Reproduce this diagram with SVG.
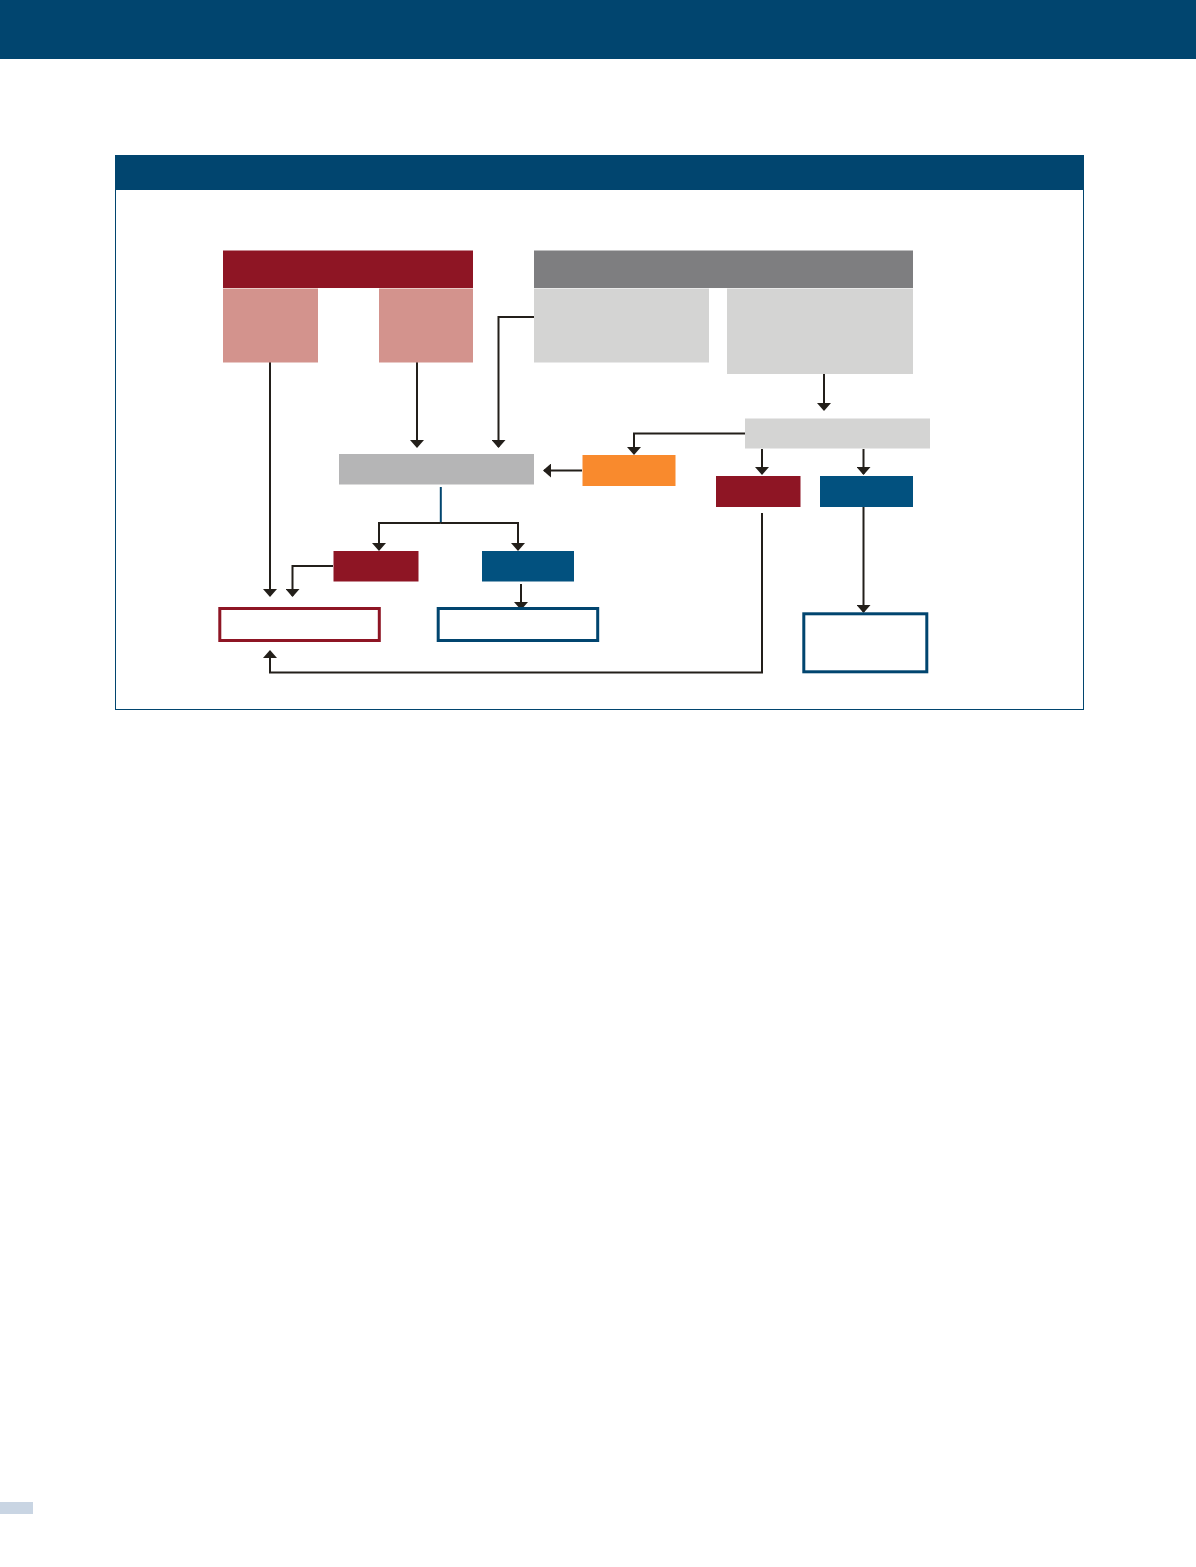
<svg xmlns="http://www.w3.org/2000/svg" width="1196" height="1567" viewBox="0 0 1196 1567">
<style>
.ln{fill:none;stroke:#231F1A;stroke-width:2}
.ah{marker-end:url(#arr)}
.red{fill:#8E1524}
.pink{fill:#D3938D}
.lg{fill:#D4D4D3}
.blue{fill:#02517F}
.outR{fill:#fff;stroke:#8E1524;stroke-width:3}
.outB{fill:#fff;stroke:#01456F;stroke-width:3}
</style>
<defs>
<marker id="arr" viewBox="0 0 8 14" refX="7" refY="7" markerWidth="8" markerHeight="14" markerUnits="userSpaceOnUse" orient="auto">
<path d="M0,0 L8,7 L0,14 z" fill="#231F1A"/>
</marker>
</defs>
<rect x="0" y="0" width="1196" height="1567" fill="#fff"/>
<rect id="topband" x="0" y="0" width="1196" height="59" fill="#01456F"/>
<rect id="footmark" x="0" y="1502" width="33" height="12" fill="#C9D5E3"/>
<g id="frame">
<rect x="115.5" y="155.5" width="968" height="554" fill="#fff" stroke="#01456F" stroke-width="1"/>
<rect x="115" y="155" width="969" height="35" fill="#01456F"/>
</g>
<g id="connectors">
<path class="ln ah" d="M270,362 V596"/>
<path class="ln ah" d="M417,362 V447"/>
<path class="ln ah" d="M534,317 H498.5 V447"/>
<path class="ln ah" d="M824,374 V410"/>
<path class="ln ah" d="M745,433.5 H634 V454"/>
<path class="ln ah" d="M582,470.5 H544"/>
<path class="ln ah" d="M762,449 V474"/>
<path class="ln ah" d="M863.5,449 V474"/>
<path d="M440.8,487 V523" fill="none" stroke="#01456F" stroke-width="2"/>
<path class="ln ah" d="M440.8,523 H379 V550"/>
<path class="ln ah" d="M440.8,523 H518 V550"/>
<path class="ln ah" d="M333,566 H292.5 V596"/>
<path class="ln ah" d="M521,584 V609"/>
<path class="ln ah" d="M863.5,507 V612"/>
<path class="ln ah" d="M762,513 V672.5 H270 V651"/>
</g>
<g id="redHeader"><rect class="red" x="223" y="250.5" width="250" height="37.5"/></g>
<g id="pinkLeft"><rect class="pink" x="223" y="288.5" width="95" height="74"/></g>
<g id="pinkRight"><rect class="pink" x="379" y="288.5" width="94" height="74"/></g>
<g id="grayHeader"><rect x="534" y="250.5" width="379" height="37.5" fill="#7E7E80"/></g>
<g id="grayLeft"><rect class="lg" x="534" y="288.5" width="175" height="74"/></g>
<g id="grayRight"><rect class="lg" x="727" y="288.5" width="186" height="85.5"/></g>
<g id="grayMidRight"><rect class="lg" x="745" y="418.5" width="185" height="30"/></g>
<g id="orange"><rect x="582.5" y="455" width="93" height="31" fill="#F98A2D"/></g>
<g id="grayCenter"><rect x="339" y="454" width="195" height="30.5" fill="#B5B5B6"/></g>
<g id="redSmallRight"><rect class="red" x="716" y="476" width="84.5" height="31"/></g>
<g id="blueSmallRight"><rect class="blue" x="820" y="476" width="93" height="31"/></g>
<g id="redSmallLeft"><rect class="red" x="333.5" y="551" width="85" height="30.5"/></g>
<g id="blueSmallLeft"><rect class="blue" x="482" y="551" width="92" height="30.5"/></g>
<g id="redOutline"><rect class="outR" x="219.8" y="608.5" width="159.5" height="32"/></g>
<g id="blueOutline"><rect class="outB" x="438.2" y="608.5" width="159.5" height="32"/></g>
<g id="blueOutlineRight"><rect class="outB" x="803.8" y="613.8" width="123" height="58"/></g>
</svg>
